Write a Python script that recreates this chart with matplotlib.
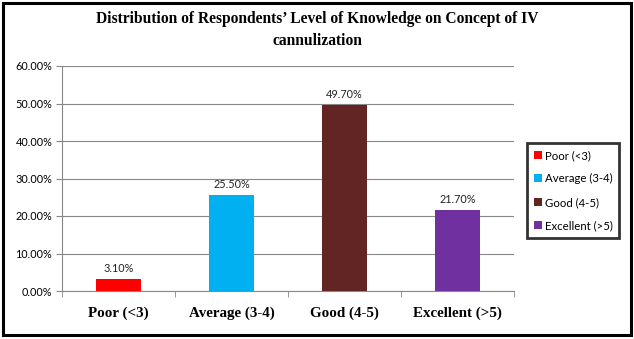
import matplotlib.pyplot as plt
from matplotlib.patches import Rectangle
import numpy as np

categories = ['Poor (<3)', 'Average (3-4)', 'Good (4-5)', 'Excellent (>5)']
values = [3.10, 25.50, 49.70, 21.70]
colors = ['#FF0000', '#00B0F0', '#632523', '#7030A0']
yticks = [0, 10, 20, 30, 40, 50, 60]

W, H = 634, 339
fig = plt.figure(figsize=(W / 100, H / 100), dpi=100)
# plot area in pixels: x 62..514, y 66..291
ax = fig.add_axes([62 / W, 1 - 291 / H, (514 - 62) / W, (291 - 66) / H])

x = np.arange(len(categories))
for i in range(len(categories)):
    ax.bar(x[i], values[i], width=0.4, color=colors[i], label=categories[i], zorder=3)
    ax.text(x[i], values[i] + 1.3, f'{values[i]:.2f}%', ha='center', va='bottom',
            fontsize=7.8, family='Lato', color='#222222')

ax.set_xlim(-0.5, len(categories) - 0.5)
ax.set_ylim(0, 60)
ax.set_yticks(yticks)
ax.set_yticklabels([f'{v:.2f}%' for v in yticks], fontsize=7.8, family='Lato')
ax.yaxis.grid(True, color='#888888', linewidth=0.8, zorder=0)
ax.set_xticks(x)
ax.set_xticklabels(categories, fontsize=10.8, family='Liberation Serif', fontweight='bold')
ax.set_xticks(np.arange(-0.5, len(categories)), minor=True)
ax.tick_params(axis='x', which='major', length=0, pad=11)
ax.tick_params(axis='x', which='minor', length=4, color='#888888')
ax.tick_params(axis='y', length=4, color='#888888', pad=3)
for s in ['top', 'right']:
    ax.spines[s].set_visible(False)
for s in ['left', 'bottom']:
    ax.spines[s].set_color('#888888')

leg = fig.legend(loc='upper left', bbox_to_anchor=(527 / W, 1 - 143 / H),
                 prop={'family': 'Lato', 'size': 8.2}, frameon=True, fancybox=False,
                 handlelength=0.7, handleheight=0.7, handletextpad=0.25,
                 labelspacing=1.1, borderpad=0.6, borderaxespad=0, edgecolor='black')
leg.get_frame().set_linewidth(2)

fig.text(0.5, 1 - 30 / H, "Distribution of Respondents’ Level of Knowledge on Concept of IV\ncannulization",
         ha='center', va='center', fontsize=11.2, family='Liberation Serif', fontweight='bold',
         linespacing=1.5)

# outer border
fig.patches.append(Rectangle((2.5 / W, 4.5 / H), (W - 5.5) / W, (H - 7) / H, transform=fig.transFigure,
                             facecolor='white', edgecolor='black', linewidth=2.2, zorder=-1))

fig.savefig('out.png', dpi=100)
